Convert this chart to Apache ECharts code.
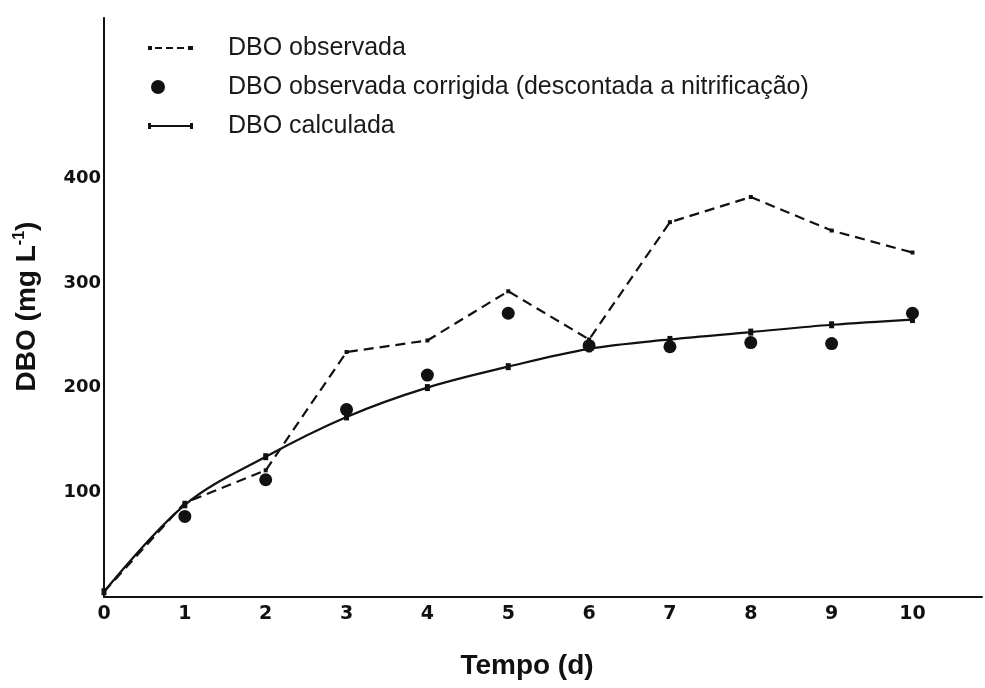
<!DOCTYPE html>
<html>
<head>
<meta charset="utf-8">
<script src="https://cdn.jsdelivr.net/npm/echarts@6/dist/echarts.min.js"></script>
<style>html,body{margin:0;padding:0;background:#fff;}#c{width:985px;height:688px;}</style>
</head>
<body>
<div id="c"></div>
<script>
const days = [0, 1, 2, 3, 4, 5, 6, 7, 8, 9, 10];
const dboObservada = [5, 90, 121, 234, 245, 292, 246, 358, 382, 350, 329];
const dboCorrigida = [null, 77, 112, 179, 212, 271, 240, 239, 243, 242, 271];
const dboCalculada = [5, 88, 134, 172, 200, 220, 237, 246, 253, 260, 265];
const seriesNames = ['DBO observada', 'DBO observada corrigida (descontada a nitrificação)', 'DBO calculada'];

const pairs = arr => days.map((d, i) => [d, arr[i]]).filter(p => p[1] !== null);

const iconDashed = 'path://M0,2h4v4h-4z M7,3h7v2h-7z M18,3h7v2h-7z M29,3h7v2h-7z M40,2h5v4h-5z';
const iconDot = 'path://M3,7a7,7 0 1,0 14,0a7,7 0 1,0 -14,0z M44.9,6.99h0.1v0.02h-0.1z M0,6.99h0.1v0.02h-0.1z';
const iconSolid = 'path://M0,1h3v6h-3z M3,3h39v2h-39z M42,1h3v6h-3z';

const chart = echarts.init(document.getElementById('c'));
const ink = '#111';
chart.setOption({
  backgroundColor: '#fff',
  animation: false,
  grid: { left: 104, right: 0, top: 18, bottom: 91 },
  legend: {
    orient: 'vertical',
    left: 148,
    top: 35,
    padding: 0,
    itemWidth: 45,
    itemHeight: 14,
    itemGap: 13,
    data: [
      { name: seriesNames[0], icon: iconDashed },
      { name: seriesNames[1], icon: iconDot },
      { name: seriesNames[2], icon: iconSolid }
    ],
    textStyle: { fontFamily: 'Liberation Sans, Arial', fontSize: 25, color: '#1a1a1a', lineHeight: 26, padding: [0, 0, 0, 30] }
  },
  xAxis: {
    type: 'value',
    min: 0, max: 10.86, interval: 1,
    name: 'Tempo (d)',
    nameLocation: 'middle',
    nameGap: 55,
    nameTextStyle: { fontFamily: 'Liberation Sans, Arial', fontWeight: 'bold', fontSize: 28, color: ink, padding: [0, 32, 0, 0] },
    axisLine: { lineStyle: { color: ink, width: 2 } },
    axisTick: { show: false },
    splitLine: { show: false },
    axisLabel: {
      margin: 8,
      fontFamily: 'DejaVu Sans', fontWeight: 'bold', fontSize: 19, color: ink,
      formatter: v => Number.isInteger(v) ? String(v) : ''
    }
  },
  yAxis: {
    type: 'value',
    min: 0, max: 553, interval: 100,
    name: '{a|DBO (mg L}{s|-1}{a|)}',
    nameLocation: 'middle',
    nameGap: 62,
    nameRotate: 90,
    nameTextStyle: {
      padding: [0, 0, 0, 2],
      rich: {
        a: { fontFamily: 'Liberation Sans, Arial', fontWeight: 'bold', fontSize: 28, color: ink },
        s: { fontFamily: 'Liberation Sans, Arial', fontWeight: 'bold', fontSize: 16, color: ink, padding: [0, 0, 14, 0] }
      }
    },
    axisLine: { show: true, lineStyle: { color: ink, width: 2 } },
    axisTick: { show: false },
    splitLine: { show: false },
    axisLabel: {
      margin: 3,
      fontFamily: 'DejaVu Sans', fontWeight: 'bold', fontSize: 18, color: ink,
      formatter: v => (v > 0 && v < 500 && v % 100 === 0) ? String(v) : ''
    }
  },
  series: [
    {
      name: seriesNames[0],
      type: 'line',
      data: pairs(dboObservada),
      symbol: 'rect',
      symbolSize: 4,
      itemStyle: { color: ink },
      lineStyle: { color: ink, width: 2.2, type: [10, 6] },
      z: 2
    },
    {
      name: seriesNames[1],
      type: 'scatter',
      data: pairs(dboCorrigida),
      symbol: 'circle',
      symbolSize: 13,
      itemStyle: { color: ink, opacity: 1 },
      z: 4
    },
    {
      name: seriesNames[2],
      type: 'line',
      data: pairs(dboCalculada),
      smooth: 0.35,
      symbol: 'rect',
      symbolSize: [5, 7],
      itemStyle: { color: ink },
      lineStyle: { color: ink, width: 2.2 },
      z: 3
    }
  ]
});
</script>
</body>
</html>
